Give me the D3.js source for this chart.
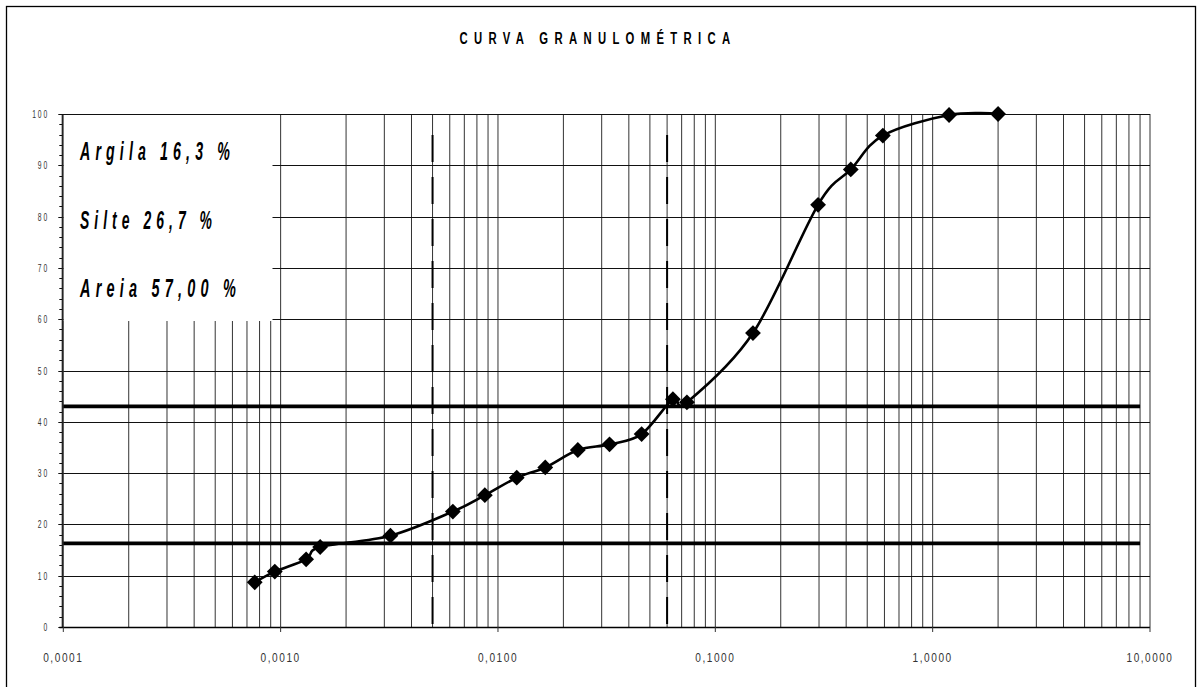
<!DOCTYPE html>
<html>
<head>
<meta charset="utf-8">
<script src="https://cdn.jsdelivr.net/npm/d3@7"></script>
<style>
  html, body { margin: 0; padding: 0; background: #fff; }
  svg { display: block; font-family: "Liberation Sans", Arial, sans-serif; }
</style>
</head>
<body>
<svg id="chart" width="1198" height="687"></svg>
<script>
// grain size (mm) and percent passing
const sizes = [0.00076, 0.00094, 0.00131, 0.00152, 0.0032, 0.0062, 0.0087, 0.0122, 0.0165, 0.0233,
  0.0326, 0.0458, 0.0638, 0.074, 0.149, 0.297, 0.42, 0.59, 1.19, 2.0];
const passing = [8.7, 10.8, 13.2, 15.6, 17.8, 22.5, 25.7, 29.1, 31.1, 34.5,
  35.6, 37.6, 44.4, 43.8, 57.3, 82.3, 89.2, 95.8, 99.8, 100];

// fraction limits (horizontal) and class boundaries (vertical dashed)
const fractionLevels = [16.3, 43.0];
const fractionSpan = [0.0001, 9];
const boundarySizes = [0.005, 0.06];
const boundarySpan = [0, 96.6];

const legendLabels = ["Argila 16,3 %", "Silte 26,7 %", "Areia 57,00 %"];
const legendWidths = [155, 137, 161];

const xTickValues = [0.0001, 0.001, 0.01, 0.1, 1, 10];
const xTickLabels = ["0,0001", "0,0010", "0,0100", "0,1000", "1,0000", "10,0000"];
const yTickValues = d3.range(0, 101, 10);
const title = "CURVA GRANULOMÉTRICA";

const svg = d3.select("#chart");
const plotLeft = 63.3, plotRight = 1150, plotTop = 114, plotBottom = 627;

const x = d3.scaleLog().domain([0.0001, 10]).range([plotLeft, plotRight]);
const y = d3.scaleLinear().domain([0, 100]).range([plotBottom, plotTop]);

// outer frame
svg.append("rect")
  .attr("x", 6.5).attr("y", 6.5)
  .attr("width", 1189).attr("height", 700)
  .attr("fill", "none").attr("stroke", "#000").attr("stroke-width", 1.3);

svg.append("text")
  .attr("x", 598).attr("y", 44)
  .attr("text-anchor", "middle")
  .attr("font-size", 16).attr("font-weight", "bold")
  .attr("letter-spacing", 9)
  .attr("textLength", 277).attr("lengthAdjust", "spacingAndGlyphs")
  .text(title);

// vertical grid: every 1..9 of each decade
const gridX = [];
for (let d = 0.0001; d < 9; d *= 10) {
  for (let k = 1; k <= 9; k++) gridX.push(+(k * d).toPrecision(3));
}
gridX.push(10);

const grid = svg.append("g");
grid.selectAll("line.v")
  .data(gridX)
  .join("line")
  .attr("class", "v")
  .attr("x1", (d) => x(d)).attr("x2", (d) => x(d))
  .attr("y1", plotTop).attr("y2", plotBottom)
  .attr("stroke", "#333").attr("stroke-width", 1);

grid.selectAll("line.h")
  .data(yTickValues)
  .join("line")
  .attr("class", "h")
  .attr("x1", plotLeft).attr("x2", plotRight)
  .attr("y1", (d) => Math.round(y(d)) + 0.5).attr("y2", (d) => Math.round(y(d)) + 0.5)
  .attr("stroke", "#111").attr("stroke-width", 1.2);

// white label box over the grid, top-left
svg.append("rect")
  .attr("x", plotLeft + 0.5).attr("y", plotTop + 1)
  .attr("width", 272 - plotLeft).attr("height", 320 - plotTop)
  .attr("fill", "#fff");

// plot top edge stays above the box
svg.append("line")
  .attr("x1", plotLeft - 4).attr("x2", plotRight)
  .attr("y1", plotTop + 0.5).attr("y2", plotTop + 0.5)
  .attr("stroke", "#111").attr("stroke-width", 1.2);

// y axis with minor ticks
const yAxis = svg.append("g");
yAxis.append("line")
  .attr("x1", plotLeft - 1).attr("x2", plotLeft - 1)
  .attr("y1", plotTop).attr("y2", plotBottom)
  .attr("stroke", "#111").attr("stroke-width", 1.2);
yAxis.selectAll("line.minor")
  .data(d3.range(0, 101, 2))
  .join("line")
  .attr("class", "minor")
  .attr("x1", (d) => (d % 10 === 0 ? plotLeft - 5 : plotLeft - 4)).attr("x2", plotLeft - 1)
  .attr("y1", (d) => Math.round(y(d)) + 0.5).attr("y2", (d) => Math.round(y(d)) + 0.5)
  .attr("stroke", "#111").attr("stroke-width", 1);
yAxis.selectAll("text")
  .data(yTickValues)
  .join("text")
  .attr("x", 49).attr("y", (d) => y(d) + 4)
  .attr("text-anchor", "end")
  .attr("font-size", 11).attr("fill", "#333")
  .attr("letter-spacing", 3)
  .attr("textLength", (d) => String(d).length * 5.6)
  .attr("lengthAdjust", "spacingAndGlyphs")
  .text((d) => d);

// x axis
const xAxis = svg.append("g");
xAxis.append("line")
  .attr("x1", plotLeft - 4).attr("x2", plotRight)
  .attr("y1", plotBottom + 0.5).attr("y2", plotBottom + 0.5)
  .attr("stroke", "#000").attr("stroke-width", 1.6);
xAxis.selectAll("line.tick")
  .data(xTickValues)
  .join("line")
  .attr("class", "tick")
  .attr("x1", (d) => x(d)).attr("x2", (d) => x(d))
  .attr("y1", plotBottom).attr("y2", plotBottom + 5)
  .attr("stroke", "#333");
xAxis.selectAll("text")
  .data(xTickValues)
  .join("text")
  .attr("x", (d) => x(d)).attr("y", 662)
  .attr("text-anchor", "middle")
  .attr("font-size", 13).attr("fill", "#333")
  .attr("letter-spacing", 2)
  .attr("textLength", (d, i) => xTickLabels[i].length * 6.7)
  .attr("lengthAdjust", "spacingAndGlyphs")
  .text((d, i) => xTickLabels[i]);

// fraction limit lines
svg.selectAll("line.frac")
  .data(fractionLevels)
  .join("line")
  .attr("class", "frac")
  .attr("x1", x(fractionSpan[0])).attr("x2", x(fractionSpan[1]))
  .attr("y1", (d) => y(d)).attr("y2", (d) => y(d))
  .attr("stroke", "#000").attr("stroke-width", 3.8);

// dashed class boundaries
svg.selectAll("line.bound")
  .data(boundarySizes)
  .join("line")
  .attr("class", "bound")
  .attr("x1", (d) => x(d)).attr("x2", (d) => x(d))
  .attr("y1", y(boundarySpan[0])).attr("y2", y(boundarySpan[1]))
  .attr("stroke", "#000").attr("stroke-width", 2)
  .attr("stroke-dasharray", "27,15")
  .attr("stroke-dashoffset", 39);

// grading curve
const points = sizes.map((s, i) => [x(s), y(passing[i])]);
svg.append("path")
  .attr("d", d3.line().curve(d3.curveCatmullRom.alpha(0))(points))
  .attr("fill", "none").attr("stroke", "#000").attr("stroke-width", 2.6);

svg.selectAll("path.mark")
  .data(points)
  .join("path")
  .attr("class", "mark")
  .attr("d", d3.symbol().type(d3.symbolSquare).size(125))
  .attr("transform", (d) => `translate(${d[0]},${d[1]}) rotate(45)`)
  .attr("fill", "#000");

// fraction labels
svg.selectAll("text.legend")
  .data(legendLabels)
  .join("text")
  .attr("class", "legend")
  .attr("x", 80).attr("y", (d, i) => 160 + i * 68.5)
  .attr("font-size", 25).attr("font-weight", "bold").attr("font-style", "italic")
  .attr("letter-spacing", 9)
  .attr("textLength", (d, i) => legendWidths[i])
  .attr("lengthAdjust", "spacingAndGlyphs")
  .text((d) => d);
</script>
</body>
</html>
